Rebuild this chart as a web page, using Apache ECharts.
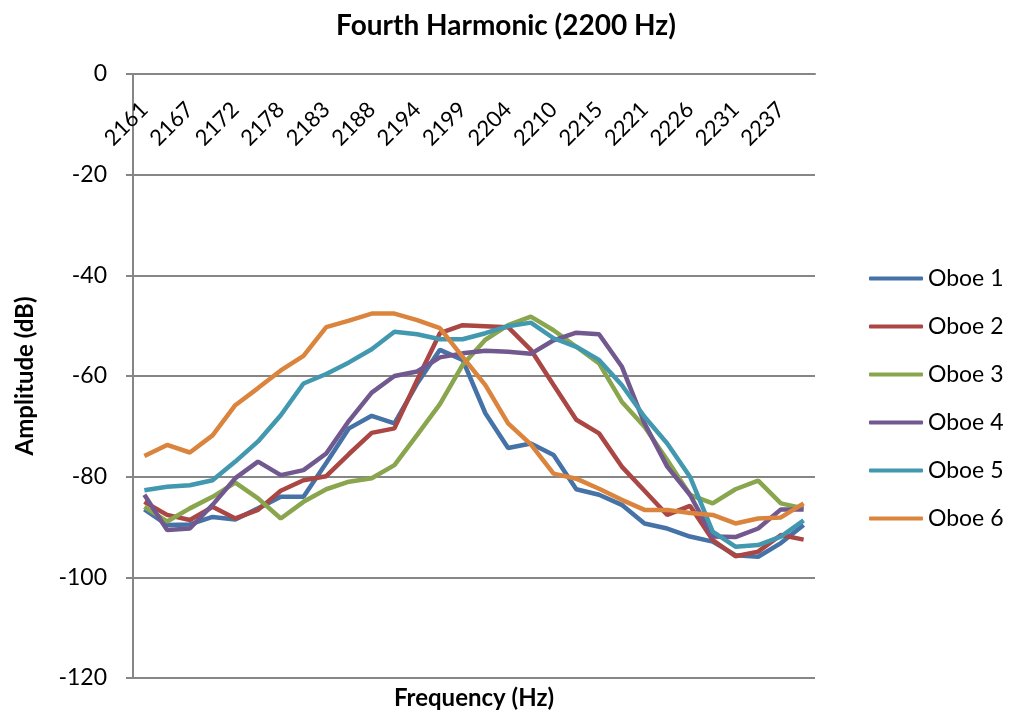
<!DOCTYPE html>
<html>
<head>
<meta charset="utf-8">
<script src="https://cdn.jsdelivr.net/npm/echarts@6/dist/echarts.min.js"></script>
<style>
html, body { margin: 0; padding: 0; background: #fff; }
#chart { width: 1012px; height: 717px; }
</style>
</head>
<body>
<div id="chart"></div>
<script>
// frequency bins (Hz)
var freqs = ['2161', '2164', '2167', '2169', '2172', '2175', '2178', '2180', '2183', '2186',
	'2188', '2191', '2194', '2196', '2199', '2202', '2204', '2207', '2210', '2213',
	'2215', '2218', '2221', '2223', '2226', '2229', '2231', '2234', '2237', '2239'];

// amplitude (dB) per oboe
var oboe1 = [-86.5, -89.6, -89.5, -88, -88.5, -86.3, -84, -84, -77.3, -70.4,
	-67.9, -69.4, -61.5, -54.8, -56.8, -67.4, -74.3, -73.4, -75.7, -82.5,
	-83.6, -85.6, -89.3, -90.3, -91.9, -92.9, -95.6, -95.9, -93.2, -89.6];
var oboe2 = [-85, -87.6, -88.6, -86, -88.3, -86.6, -82.8, -80.7, -79.9, -75.5,
	-71.3, -70.4, -60.8, -51.5, -49.9, -50.1, -50.3, -54.8, -61.8, -68.7,
	-71.4, -78, -82.8, -87.6, -85.8, -92.6, -95.8, -94.9, -91.6, -92.5];
var oboe3 = [-86, -88.9, -86.3, -84, -81.2, -84.3, -88.3, -85, -82.5, -81,
	-80.3, -77.7, -71.7, -65.6, -57.8, -52.8, -49.9, -48.2, -50.9, -54.2,
	-57.5, -65.1, -70.1, -76.7, -83.6, -85.3, -82.5, -80.8, -85.3, -86.3];
var oboe4 = [-83.6, -90.6, -90.3, -85.6, -80.3, -77, -79.7, -78.7, -75.4, -68.9,
	-63.3, -60, -59.1, -56.3, -55.5, -55, -55.2, -55.6, -52.9, -51.4,
	-51.7, -58.1, -69.4, -78, -83.6, -91.9, -92, -90.3, -86.5, -86.5];
var oboe5 = [-82.7, -82, -81.7, -80.7, -77, -73, -67.8, -61.5, -59.6, -57.3,
	-54.7, -51.2, -51.7, -52.7, -52.7, -51.5, -50.1, -49.4, -52.5, -54.2,
	-56.8, -61.8, -68.1, -73.4, -80, -90.9, -93.9, -93.6, -91.9, -88.7];
var oboe6 = [-75.9, -73.7, -75.2, -71.8, -65.8, -62.4, -58.9, -56, -50.3, -49,
	-47.6, -47.6, -48.9, -50.5, -56.2, -61.8, -69.4, -73.6, -79.4, -80.4,
	-82.4, -84.6, -86.6, -86.6, -87.2, -87.6, -89.3, -88.3, -88.1, -85.3];

var names = ['Oboe 1', 'Oboe 2', 'Oboe 3', 'Oboe 4', 'Oboe 5', 'Oboe 6'];
var colors = ['#4572A7', '#AA4643', '#89A54E', '#71588F', '#4198AF', '#DB843D'];

var font = 'Lato, "Open Sans", sans-serif';
var allData = [oboe1, oboe2, oboe3, oboe4, oboe5, oboe6];

var myChart = echarts.init(document.getElementById('chart'));
var option = {
	backgroundColor: '#fff',
	color: colors,
	title: {
		text: 'Fourth Harmonic (2200 Hz)',
		left: 'center',
		top: 7,
		textStyle: { fontFamily: font, fontSize: 28, fontWeight: 'bold', color: '#000' }
	},
	legend: {
		orient: 'vertical',
		left: 864,
		top: 262,
		itemWidth: 54,
		itemHeight: 4,
		itemGap: 25,
		icon: 'roundRect',
		data: names,
		textStyle: { fontFamily: font, fontSize: 23, color: '#000' }
	},
	grid: { left: 133, right: 197, top: 74, bottom: 39 },
	xAxis: {
		type: 'category',
		position: 'top',
		data: freqs,
		name: 'Frequency (Hz)',
		nameLocation: 'middle',
		nameGap: -636,
		boundaryGap: true,
		axisLine: { onZero: false, lineStyle: { color: '#868686', width: 2 } },
		axisTick: { inside: true, interval: 1, length: 7, lineStyle: { color: '#868686', width: 2 } },
		axisLabel: {
			inside: true, interval: 0, rotate: -45, margin: 32,
			fontFamily: font, fontSize: 22, color: '#000',
			formatter: function(v, i) { return i % 2 === 0 ? v : ''; }
		},
		nameTextStyle: { fontFamily: font, fontSize: 24, fontWeight: 'bold', color: '#000' }
	},
	yAxis: {
		type: 'value',
		min: -120,
		max: 0,
		interval: 20,
		name: 'Amplitude (dB)',
		nameLocation: 'middle',
		nameGap: 96,
		nameTextStyle: { fontFamily: font, fontSize: 24, fontWeight: 'bold', color: '#000' },
		axisLine: { show: true, lineStyle: { color: '#868686', width: 2 } },
		axisTick: { show: true, length: 7, lineStyle: { color: '#868686', width: 2 } },
		axisLabel: { fontFamily: font, fontSize: 23, color: '#000', margin: 26 },
		splitLine: { show: true, lineStyle: { color: '#868686', width: 2 } }
	},
	series: []
};

allData.map(function(item, index) {
	option.series.push({
		name: names[index],
		type: 'line',
		data: item,
		showSymbol: false,
		symbol: 'none',
		lineStyle: { width: 4.5, color: colors[index] },
		itemStyle: { color: colors[index] }
	});
});

myChart.setOption(option);
</script>
</body>
</html>
